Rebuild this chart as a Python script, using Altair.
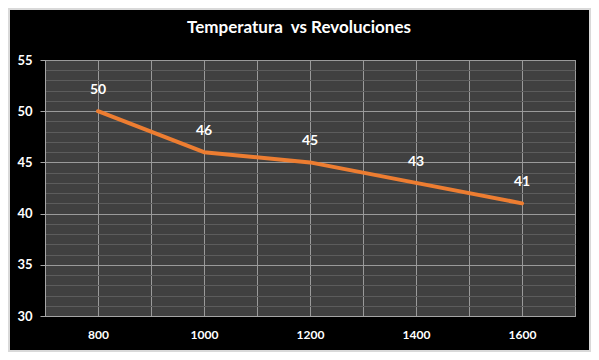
import altair as alt
import pandas as pd

revoluciones = [800, 1000, 1200, 1400, 1600]
temperatura = [50, 46, 45, 43, 41]
titulo = "Temperatura\u00a0 vs Revoluciones"

df = pd.DataFrame({"rev": revoluciones, "temp": temperatura})

W, H = 530, 256
PAD = {"left": 37, "top": 52, "right": 16, "bottom": 36}

x_grid = list(range(700, 1701, 100))
y_grid = list(range(30, 56, 1))

x_enc = alt.X(
    "rev:Q",
    scale=alt.Scale(domain=[700, 1700], nice=False, zero=False),
    axis=alt.Axis(
        values=x_grid,
        tickCount=40,
        title=None,
        grid=True,
        gridColor="#9a9a9a",
        gridWidth=1,
        ticks=False,
        domainColor="#a6a6a6",
        labelExpr="(datum.value >= 800 && datum.value <= 1600 && (datum.value - 800) % 200 === 0) ? datum.label : ''",
        labelColor="white",
        labelFont="Lato",
        labelFontWeight="bold",
        labelFontSize=12,
        labelPadding=13,
        labelOverlap=False,
        format="d",
    ),
)

y_enc = alt.Y(
    "temp:Q",
    scale=alt.Scale(domain=[30, 55], nice=False, zero=False),
    axis=alt.Axis(
        values=y_grid,
        tickCount=60,
        title=None,
        grid=True,
        gridColor={"condition": {"test": "datum.value % 5 === 0", "value": "#9a9a9a"}, "value": "#5c5c5c"},
        gridWidth=1,
        tickColor={"condition": {"test": "datum.value % 5 === 0", "value": "#a6a6a6"}, "value": "transparent"},
        tickSize=5,
        domainColor="#a6a6a6",
        labelExpr="datum.value % 5 === 0 ? datum.label : ''",
        labelColor="white",
        labelFont="Lato",
        labelFontWeight="bold",
        labelFontSize=13,
        labelPadding=8,
        labelOverlap=False,
        format="d",
    ),
)

line = alt.Chart(df).mark_line(color="#ED7D31", strokeWidth=4, strokeCap="round", strokeJoin="round").encode(
    x=x_enc, y=y_enc
)

labels = alt.Chart(df).mark_text(
    color="white", font="Lato", fontWeight="bold", fontSize=14, baseline="middle", dy=-21
).encode(x="rev:Q", y="temp:Q", text="temp:Q")

frame = alt.Chart(df).mark_rect(
    fill="transparent", stroke="#d9d9d9", strokeWidth=4, clip=False
).encode(
    x=alt.value(-PAD["left"]),
    x2=alt.value(W + PAD["right"]),
    y=alt.value(-PAD["top"]),
    y2=alt.value(H + PAD["bottom"]),
)

chart = (
    alt.layer(line, labels, frame)
    .properties(
        width=W,
        height=H,
        autosize=alt.AutoSizeParams(type="none"),
        padding=PAD,
        background="black",
        title=alt.TitleParams(
            titulo,
            color="white",
            font="Lato",
            fontWeight="bold",
            fontSize=17,
            anchor="middle",
            frame="group",
            baseline="alphabetic",
            offset=0,
            dy=44,
            dx=-11,
        ),
    )
    .configure_view(fill="#404040", stroke="#a6a6a6", strokeWidth=1)
)

chart.save("out.html", embed_options={"renderer": "svg", "actions": False})
